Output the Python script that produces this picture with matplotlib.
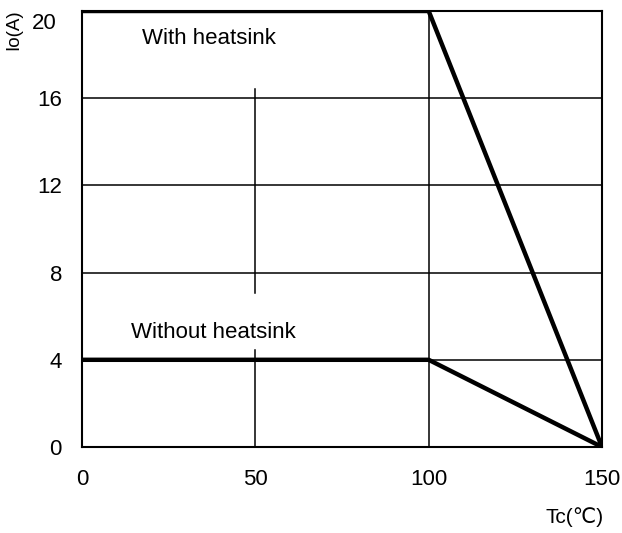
import numpy as np
import matplotlib.pyplot as plt
from matplotlib.transforms import ScaledTranslation

plt.rcParams['font.family'] = ['Liberation Sans', 'DejaVu Sans']

# derating curves
tc_with = [0, 100, 150]
io_with = [20, 20, 0]
tc_without = [0, 100, 150]
io_without = [4, 4, 0]

xticks = [0, 50, 100, 150]
yticks = [0, 4, 8, 12, 16, 20]

fig = plt.figure(figsize=(6.22, 5.33), dpi=100)
ax = fig.add_axes([82/622, 1-447/533, 520/622, 436/533])

# grid
for y in [4, 8, 12, 16]:
    ax.plot([0, 150], [y, y], color='black', linewidth=1.1, zorder=1)
ax.plot([100, 100], [0, 20], color='black', linewidth=1.1, zorder=1)
ax.plot([50, 50], [7.05, 16.4], color='black', linewidth=1.1, zorder=1)
ax.plot([50, 50], [0, 4.45], color='black', linewidth=1.1, zorder=1)

ax.plot(tc_with, io_with, color='black', linewidth=3.2, solid_capstyle='butt', zorder=3)
ax.plot(tc_without, io_without, color='black', linewidth=3.2, solid_capstyle='butt', zorder=3)

ax.text(17.3, 18.5, 'With heatsink', fontsize=16)
ax.text(14.1, 5.0, 'Without heatsink', fontsize=16)

ax.set_xlim(0, 150)
ax.set_ylim(0, 20)
ax.set_xticks(xticks)
ax.set_yticks(yticks)
ax.tick_params(length=0, labelsize=16)
ax.tick_params(axis='y', pad=14.4)
ax.tick_params(axis='x', pad=15.5)
for s in ax.spines.values():
    s.set_linewidth(1.5)

# top label sits lower in the original
for lab in ax.get_yticklabels():
    if lab.get_text() == '20':
        lab.set_transform(lab.get_transform() + ScaledTranslation(-0.05, -0.10, fig.dpi_scale_trans))

fig.text(14/622, 1-30/533, 'Io(A)', rotation=90, fontsize=13.5, ha='center', va='center')
fig.text(575/622, 1-517/533, 'Tc(℃)', fontsize=15, ha='center', va='center')

plt.savefig('out.png', dpi=100)
